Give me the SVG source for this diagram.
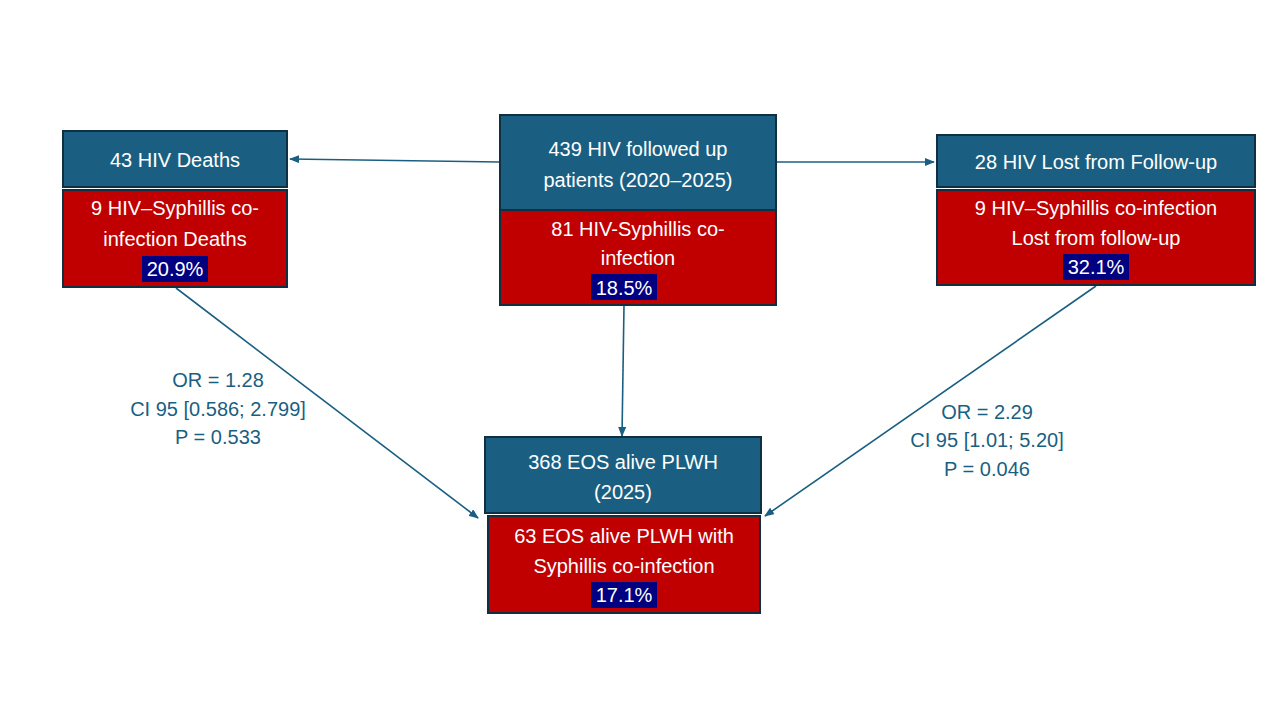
<svg xmlns="http://www.w3.org/2000/svg" width="1280" height="720" viewBox="0 0 1280 720">
<style>
.b{fill:#1a5f82;stroke:#0f2f42;stroke-width:2}
.r{fill:#c00000;stroke:#0f2f42;stroke-width:2}
text{font-family:"Liberation Sans",Arial,sans-serif;font-size:20px;text-anchor:middle;fill:#fff}
.lab{fill:#1a5f82}
.hl{fill:#000080}
.c{stroke:#1a5f82;stroke-width:1.6;fill:none;marker-end:url(#a)}
</style>
<defs><marker id="a" markerWidth="10" markerHeight="8" refX="9" refY="4" orient="auto" markerUnits="userSpaceOnUse"><path d="M0,0L10,4L0,8z" fill="#1a5f82"/></marker></defs>
<rect width="1280" height="720" fill="#fff"/>
<g id="connectors">
<line class="c" x1="500" y1="162" x2="290" y2="159"/>
<line class="c" x1="776" y1="162" x2="934" y2="162"/>
<line class="c" x1="624" y1="305" x2="622" y2="436"/>
<line class="c" x1="176" y1="288" x2="478" y2="518"/>
<line class="c" x1="1096" y1="286" x2="765" y2="516"/>
</g>
<g id="deaths">
<rect class="b" x="63" y="131" width="224" height="56"/>
<text x="175" y="167">43 HIV Deaths</text>
<rect class="r" x="63" y="190" width="224" height="97"/>
<text x="175" y="215">9 HIV–Syphillis co-</text>
<text x="175" y="246">infection Deaths</text>
<rect class="hl" x="142" y="256" width="66" height="26"/>
<text x="175" y="276">20.9%</text>
</g>
<g id="followed">
<rect class="b" x="500" y="115" width="276" height="95"/>
<text x="638" y="156">439 HIV followed up</text>
<text x="638" y="187">patients (2020–2025)</text>
<rect class="r" x="500" y="210" width="276" height="95"/>
<text x="638" y="236">81 HIV-Syphillis co-</text>
<text x="638" y="265">infection</text>
<rect class="hl" x="591" y="274" width="66" height="26"/>
<text x="624" y="295">18.5%</text>
</g>
<g id="lost">
<rect class="b" x="937" y="135" width="318" height="52"/>
<text x="1096" y="169">28 HIV Lost from Follow-up</text>
<rect class="r" x="937" y="190" width="318" height="95"/>
<text x="1096" y="215">9 HIV–Syphillis co-infection</text>
<text x="1096" y="245">Lost from follow-up</text>
<rect class="hl" x="1063" y="254" width="66" height="26"/>
<text x="1096" y="274">32.1%</text>
</g>
<g id="alive">
<rect class="b" x="485" y="437" width="276" height="76"/>
<text x="623" y="469">368 EOS alive PLWH</text>
<text x="623" y="499">(2025)</text>
<rect class="r" x="488" y="516" width="272" height="97"/>
<text x="624" y="543">63 EOS alive PLWH with</text>
<text x="624" y="573">Syphillis co-infection</text>
<rect class="hl" x="591" y="582" width="66" height="26"/>
<text x="624" y="602">17.1%</text>
</g>
<g id="labels">
<text class="lab" x="218" y="387">OR = 1.28</text>
<text class="lab" x="218" y="416">CI 95 [0.586; 2.799]</text>
<text class="lab" x="218" y="444">P = 0.533</text>
<text class="lab" x="987" y="419">OR = 2.29</text>
<text class="lab" x="987" y="447">CI 95  [1.01; 5.20]</text>
<text class="lab" x="987" y="476">P =  0.046</text>
</g>
</svg>
